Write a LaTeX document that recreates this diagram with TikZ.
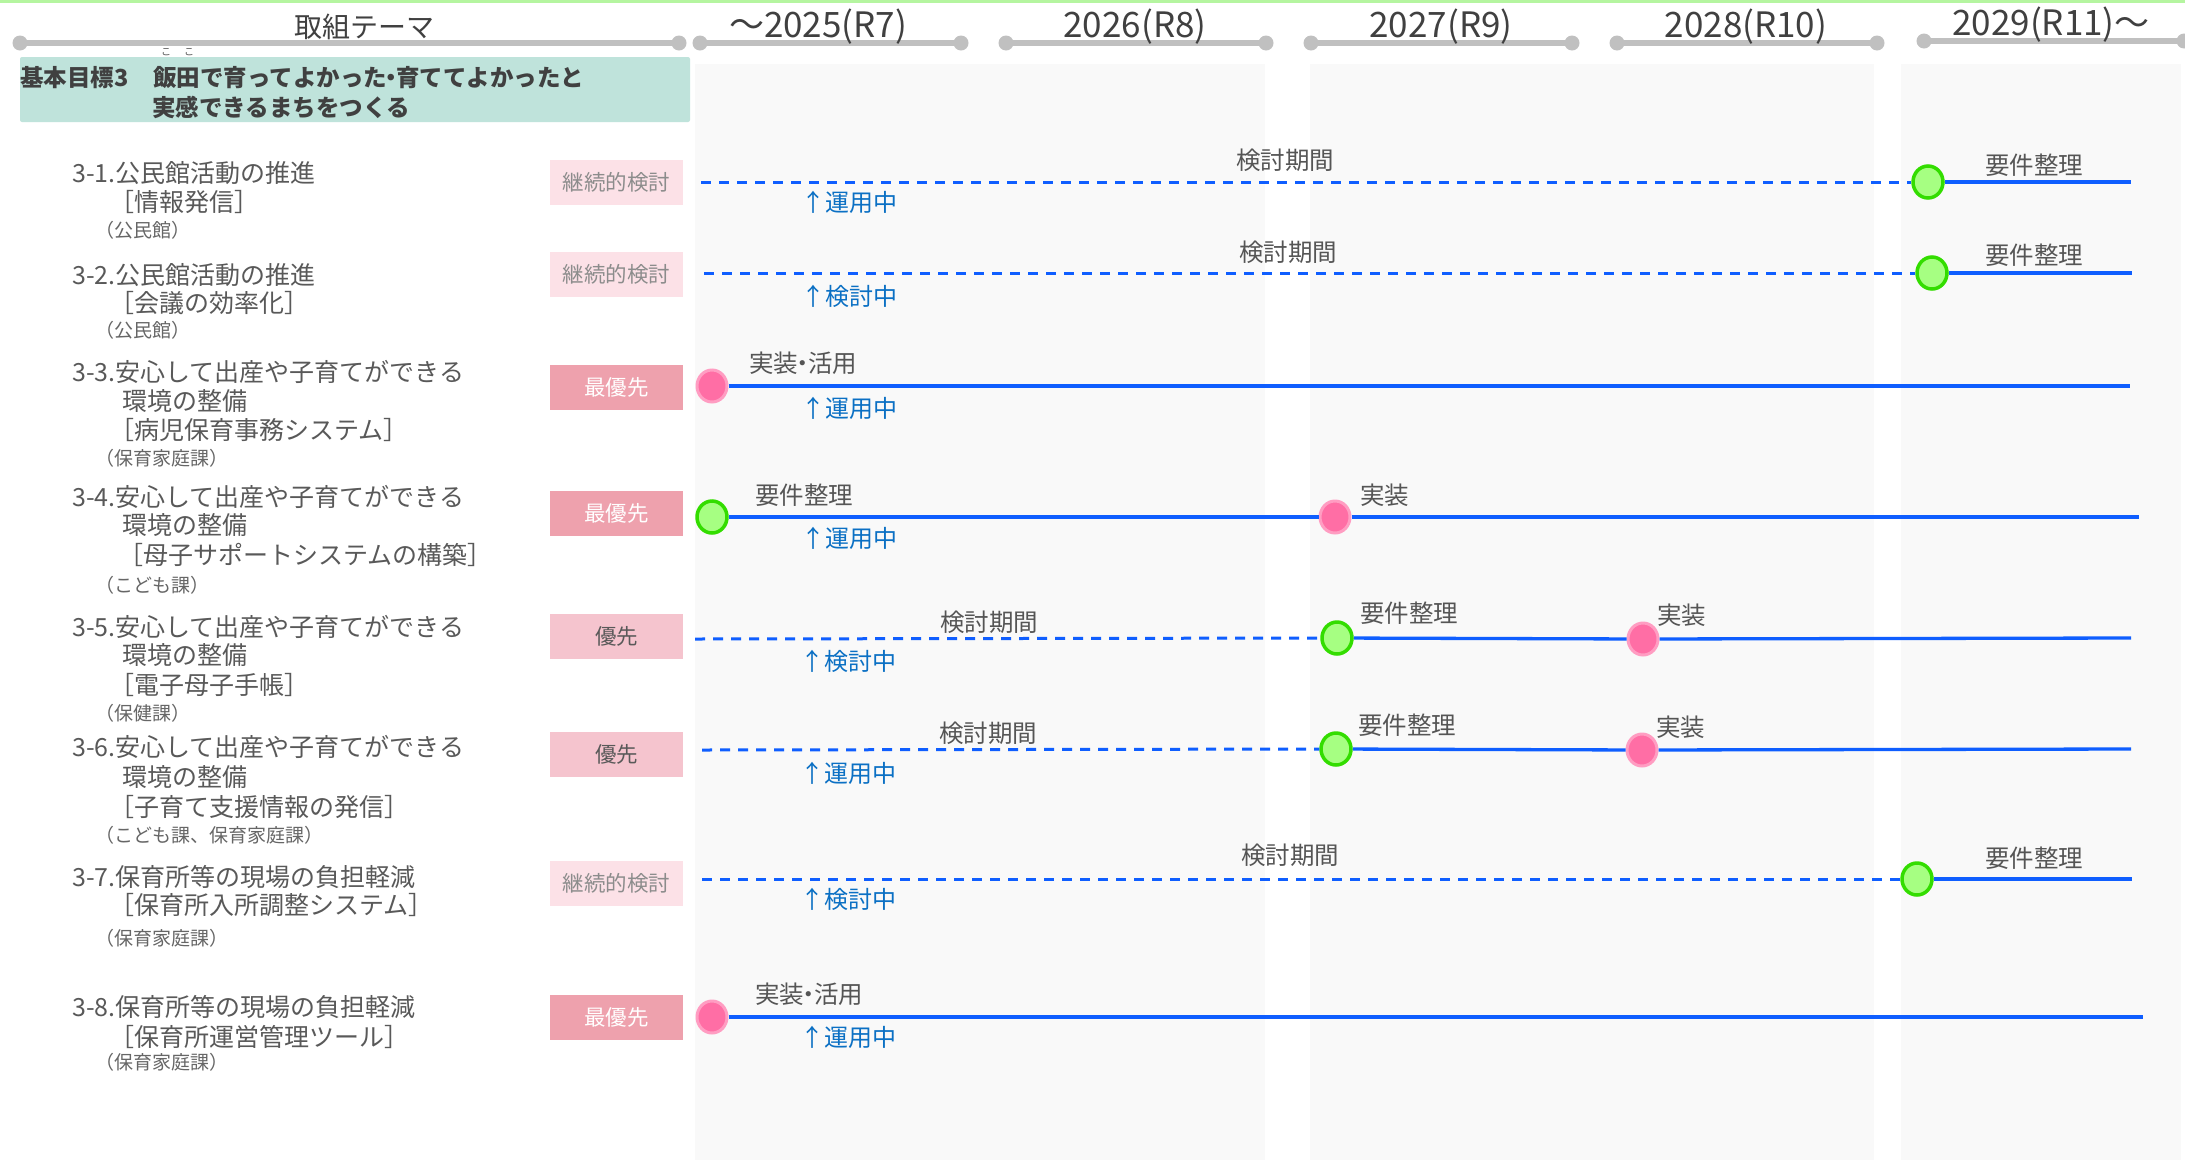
\documentclass[tikz,border=0pt]{standalone}
\usepackage{fontspec}
\setmainfont{Noto Sans CJK JP}
\usetikzlibrary{shapes.geometric}
\definecolor{hdrgray}{HTML}{C0C0C0}
\definecolor{hdrtxt}{HTML}{404040}
\definecolor{tealbox}{HTML}{BFE3DB}
\definecolor{itemtxt}{HTML}{595959}
\definecolor{depttxt}{HTML}{666666}
\definecolor{panel}{HTML}{F9F9F9}
\definecolor{boxK}{HTML}{FCE1E7}
\definecolor{keitxt}{HTML}{8C8C8C}
\definecolor{boxS}{HTML}{EEA1AD}
\definecolor{boxP}{HTML}{F5C4CE}
\definecolor{blueline}{HTML}{0F5EFF}
\definecolor{bluetxt}{HTML}{0B70C4}
\definecolor{lbltxt}{HTML}{555555}
\definecolor{pinkfill}{HTML}{FF6EA5}
\definecolor{pinkdraw}{HTML}{FF9DC2}
\definecolor{greenfill}{HTML}{A6FF82}
\definecolor{greendraw}{HTML}{33DD00}
\definecolor{topgreen}{HTML}{B5F5A0}
\newcommand{\nakaguro}{\kern-0.3em・\kern-0.3em}
\begin{document}
\begin{tikzpicture}[x=1pt,y=-1pt,
  hdrline/.style={draw=hdrgray,line width=5.5pt},
  hdrdot/.style={circle,fill=hdrgray,inner sep=0,minimum size=15pt},
  hdrtext/.style={text=hdrtxt,inner sep=0,font=\fontsize{35}{38}\selectfont},
  item/.style={anchor=west,inner sep=0,text=itemtxt,font=\fontsize{25}{28}\selectfont},
  dept/.style={anchor=west,inner sep=0,text=depttxt,font=\fontsize{19}{21}\selectfont},
  prio/.style={minimum width=133pt,minimum height=45pt,inner sep=0,font=\fontsize{21.5}{24}\selectfont},
  kei/.style={prio,fill=boxK,text=keitxt},
  sai/.style={prio,fill=boxS,text=white},
  yu/.style={prio,fill=boxP,text=itemtxt},
  lbl/.style={inner sep=0,text=lbltxt,font=\fontsize{24.5}{28}\selectfont},
  stat/.style={anchor=west,inner sep=0,text=bluetxt,font=\fontsize{24}{27}\selectfont},
  plan/.style={draw=blueline,line width=3pt,dash pattern=on 10pt off 8pt},
  act/.style={draw=blueline,line width=3.3pt},
  gm/.style={ellipse,draw=greendraw,fill=greenfill,line width=3.5pt,minimum width=30pt,minimum height=32pt,inner sep=0},
  pm/.style={ellipse,draw=pinkdraw,fill=pinkfill,line width=3pt,minimum width=30pt,minimum height=32pt,inner sep=0},
]
\useasboundingbox (0,0) rectangle (2185,1160);
\fill[white] (0,0) rectangle (2185,1160);
% top line
\fill[topgreen] (0,0) rectangle (2185,3);
% background panels
\fill[panel] (695,64) rectangle (1265,1160);
\fill[panel] (1310,64) rectangle (1874,1160);
\fill[panel] (1901,64) rectangle (2181,1160);

% header
\node[hdrdot] (h0a) at (20,43) {};
\node[hdrdot] (h0b) at (679,43) {};
\draw[hdrline] (h0a.center) -- (h0b.center);
\node[hdrtext,font=\fontsize{28}{32}\selectfont] (t0) at (364,27) {取組テーマ};
\node[hdrdot] (h1a) at (700,43) {};
\node[hdrdot] (h1b) at (961,43) {};
\draw[hdrline] (h1a.center) -- (h1b.center);
\node[hdrtext] (t1) at (818,27) {～2025(R7)};
\node[hdrdot] (h2a) at (1006,43) {};
\node[hdrdot] (h2b) at (1266,43) {};
\draw[hdrline] (h2a.center) -- (h2b.center);
\node[hdrtext] (t2) at (1135,27) {2026(R8)};
\node[hdrdot] (h3a) at (1311,43) {};
\node[hdrdot] (h3b) at (1572,43) {};
\draw[hdrline] (h3a.center) -- (h3b.center);
\node[hdrtext] (t3) at (1441,27) {2027(R9)};
\node[hdrdot] (h4a) at (1617,43) {};
\node[hdrdot] (h4b) at (1877,43) {};
\draw[hdrline] (h4a.center) -- (h4b.center);
\node[hdrtext] (t4) at (1746,27) {2028(R10)};
\node[hdrdot] (h5a) at (1924,41) {};
\node[hdrdot] (h5b) at (2184,41) {};
\draw[hdrline] (h5a.center) -- (h5b.center);
\node[hdrtext] (t5) at (2051,25) {2029(R11)～};

% goal box
\node[fill=tealbox,rounded corners=2pt,minimum width=670pt,minimum height=65pt,inner sep=0] (goal) at (355,89.5) {};
\node[anchor=west,inner sep=0,text=hdrtxt,font=\fontsize{23.5}{26}\selectfont\bfseries] (g1) at (20,78) {基本目標3};
\node[anchor=west,inner sep=0,text=hdrtxt,font=\fontsize{23.5}{26}\selectfont\bfseries] (g2) at (153,78) {飯田で育ってよかった\nakaguro 育ててよかったと};
\node[anchor=west,inner sep=0,text=hdrtxt,font=\fontsize{23.5}{26}\selectfont\bfseries] (g3) at (152,107) {実感できるまちをつくる};
\node[inner sep=0,text=lbltxt,font=\fontsize{10}{11}\selectfont] (f1) at (166,52) {こ};
\node[inner sep=0,text=lbltxt,font=\fontsize{10}{11}\selectfont] (f2) at (189,52) {こ};

% items
\node[item] (a1) at (72,173) {3-1.公民館活動の推進};
\node[item] (a2) at (109,202) {［情報発信］};
\node[dept] (a3) at (95,230) {（公民館）};
\node[item] (b1) at (72,275) {3-2.公民館活動の推進};
\node[item] (b2) at (109,303) {［会議の効率化］};
\node[dept] (b3) at (95,330) {（公民館）};
\node[item] (c1) at (72,372) {3-3.安心して出産や子育てができる};
\node[item] (c2) at (122,401) {環境の整備};
\node[item] (c3) at (109,430) {［病児保育事務システム］};
\node[dept] (c4) at (95,458) {（保育家庭課）};
\node[item] (d1) at (72,497) {3-4.安心して出産や子育てができる};
\node[item] (d2) at (122,525) {環境の整備};
\node[item] (d3) at (118,555) {［母子サポートシステムの構築］};
\node[dept] (d4) at (95,585) {（こども課）};
\node[item] (e1) at (72,627) {3-5.安心して出産や子育てができる};
\node[item] (e2) at (122,655) {環境の整備};
\node[item] (e3) at (109,685) {［電子母子手帳］};
\node[dept] (e4) at (95,713) {（保健課）};
\node[item] (k1) at (72,747) {3-6.安心して出産や子育てができる};
\node[item] (k2) at (122,777) {環境の整備};
\node[item] (k3) at (109,807) {［子育て支援情報の発信］};
\node[dept] (k4) at (95,835) {（こども課、保育家庭課）};
\node[item] (m1) at (72,877) {3-7.保育所等の現場の負担軽減};
\node[item] (m2) at (109,905) {［保育所入所調整システム］};
\node[dept] (m3) at (95,938) {（保育家庭課）};
\node[item] (n1) at (72,1007) {3-8.保育所等の現場の負担軽減};
\node[item] (n2) at (109,1037) {［保育所運営管理ツール］};
\node[dept] (n3) at (95,1062) {（保育家庭課）};

% priority boxes
\node[kei] (p1) at (616.5,182.5) {継続的検討};
\node[kei] (p2) at (616.5,274.5) {継続的検討};
\node[sai] (p3) at (616.5,387) {最優先};
\node[sai] (p4) at (616.5,513) {最優先};
\node[yu]  (p5) at (616.5,636.5) {優先};
\node[yu]  (p6) at (616.5,754.5) {優先};
\node[kei] (p7) at (616.5,883.5) {継続的検討};
\node[sai] (p8) at (616.5,1017) {最優先};

% ---- row 1
\coordinate (s1) at (701,182);
\coordinate (z1) at (2131,182);
\node[gm] (g1m) at (1928,182) {};
\draw[plan] (s1) -- (g1m);
\draw[act] (g1m) -- (z1);
\node[lbl] (l1a) at (1285,160) {検討期間};
\node[lbl] (l1b) at (2034,165) {要件整理};
\node[stat] (l1c) at (801,202) {↑運用中};
% ---- row 2
\coordinate (s2) at (704,273);
\coordinate (z2) at (2132,273);
\node[gm] (g2m) at (1932,273) {};
\draw[plan] (s2) -- (g2m);
\draw[act] (g2m) -- (z2);
\node[lbl] (l2a) at (1288,252) {検討期間};
\node[lbl] (l2b) at (2034,255) {要件整理};
\node[stat] (l2c) at (801,296) {↑検討中};
% ---- row 3
\coordinate (z3) at (2130,386);
\node[pm] (p3m) at (712,386) {};
\draw[act] (p3m) -- (z3);
\node[lbl,anchor=west] (l3a) at (749,363) {実装\nakaguro 活用};
\node[stat] (l3c) at (801,408) {↑運用中};
% ---- row 4
\coordinate (z4) at (2139,517);
\node[gm] (g4m) at (712,517) {};
\node[pm] (p4m) at (1335,517) {};
\draw[act] (g4m) -- (p4m);
\draw[act] (p4m) -- (z4);
\node[lbl,anchor=west] (l4a) at (755,495) {要件整理};
\node[lbl,anchor=west] (l4b) at (1360,495) {実装};
\node[stat] (l4c) at (801,538) {↑運用中};
% ---- row 5
\coordinate (s5) at (695,639);
\coordinate (z5) at (2131,638);
\node[gm] (g5m) at (1337,638) {};
\node[pm] (p5m) at (1643,639) {};
\draw[plan] (s5) -- (g5m);
\draw[act] (g5m) -- (p5m);
\draw[act] (p5m) -- (z5);
\node[lbl] (l5a) at (989,622) {検討期間};
\node[lbl,anchor=west] (l5b) at (1360,613) {要件整理};
\node[lbl,anchor=west] (l5d) at (1657,615) {実装};
\node[stat] (l5c) at (800,661) {↑検討中};
% ---- row 6
\coordinate (s6) at (702,750);
\coordinate (z6) at (2131,749);
\node[gm] (g6m) at (1336,749) {};
\node[pm] (p6m) at (1642,750) {};
\draw[plan] (s6) -- (g6m);
\draw[act] (g6m) -- (p6m);
\draw[act] (p6m) -- (z6);
\node[lbl] (l6a) at (988,733) {検討期間};
\node[lbl,anchor=west] (l6b) at (1358,725) {要件整理};
\node[lbl,anchor=west] (l6d) at (1656,727) {実装};
\node[stat] (l6c) at (800,773) {↑運用中};
% ---- row 7
\coordinate (s7) at (702,879);
\coordinate (z7) at (2132,879);
\node[gm] (g7m) at (1917,879) {};
\draw[plan] (s7) -- (g7m);
\draw[act] (g7m) -- (z7);
\node[lbl] (l7a) at (1290,855) {検討期間};
\node[lbl] (l7b) at (2034,858) {要件整理};
\node[stat] (l7c) at (800,899) {↑検討中};
% ---- row 8
\coordinate (z8) at (2143,1017);
\node[pm] (p8m) at (712,1017) {};
\draw[act] (p8m) -- (z8);
\node[lbl,anchor=west] (l8a) at (755,994) {実装\nakaguro 活用};
\node[stat] (l8c) at (800,1037) {↑運用中};
\end{tikzpicture}
\end{document}
